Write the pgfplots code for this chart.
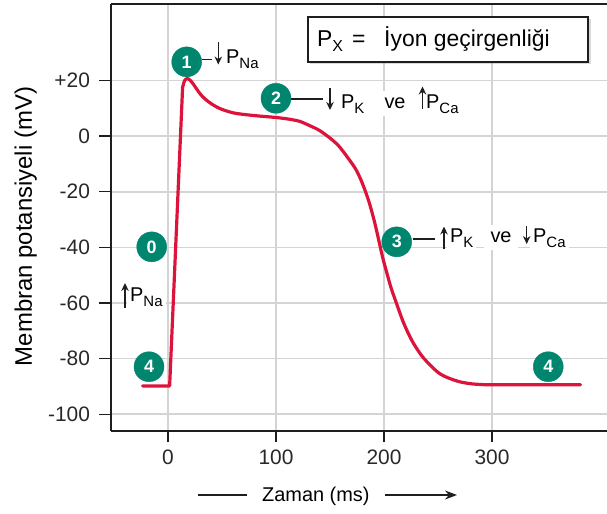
\documentclass[border=0pt]{standalone}
\usepackage{pgfplots}
\pgfplotsset{compat=1.18}
\usepackage{fontspec}
\setmainfont{Liberation Sans}
\usetikzlibrary{arrows.meta,shadows}

\definecolor{apred}{RGB}{220,20,60}
\definecolor{apteal}{RGB}{0,133,111}
\definecolor{gridgray}{RGB}{212,212,212}
\definecolor{txt}{RGB}{40,40,40}
\definecolor{axgray}{RGB}{30,30,30}

\newcommand{\fs}[1]{\fontsize{#1}{#1}\selectfont}
\newcommand{\sub}[1]{\raisebox{-5bp}{\fs{15}#1}}

\pgfplotstableread{
x y
-23.5 -89.8
1.5 -89.8
13.5 17.5
}\apup

\pgfplotstableread{
x y
13.5 17.5
15.4 20.0
17.8 20.7
20.5 20.1
24 18.4
28 16.1
32 14.2
38 12.2
44 10.7
50 9.6
60 8.4
70 7.8
85 7.2
100 6.7
112 6.1
122 5.3
131 3.8
140 2.1
150 -0.7
158 -3.5
166 -7.5
174 -12.0
180 -17.0
186 -23.5
191 -30.5
195.5 -38.0
199 -44.0
202.5 -49.0
206.5 -54.5
211 -59.5
218 -67.0
226 -73.6
235 -79.0
244.5 -83.0
252 -85.5
260 -87.0
270 -88.3
280 -89.0
290 -89.3
300 -89.4
340 -89.4
382 -89.4
}\apdata

\pgfplotstableread{
x y lab
17.3 26.7 1
100 13.6 2
-15.1 -39.8 0
-17.6 -82.9 4
211.8 -38.0 3
352.1 -82.9 4
}\circles

\begin{document}
\begin{tikzpicture}
\useasboundingbox (-111bp,-83.3bp) rectangle (496bp,430.7bp);
\begin{axis}[
  at={(0,0)}, anchor=south west,
  scale only axis, width=496bp, height=426.7bp,
  xmin=-52.8, xmax=406.5, ymin=-105.9, ymax=47.5,
  axis x line*=box, axis y line*=left,
  axis line style={-, draw=axgray, line width=1.6bp},
  xtick={0,100,200,300}, xticklabels={0,100,200,300},
  ytick={-100,-80,-60,-40,-20,0,20}, yticklabels={-100,-80,-60,-40,-20,0,+20},
  xtick pos=left, ytick pos=left,
  tick align=outside, major tick length=11.5bp,
  tick style={draw=axgray, line width=1.3bp},
  grid=major, major grid style={draw=gridgray, line width=1.6bp},
  tick label style={font=\fs{21}, text=txt},
  yticklabel style={xshift=-6bp},
  xticklabel style={yshift=-4bp},
  clip=false,
]
\addplot[apred, line width=3.2bp, line join=round, line cap=round] table[x=x,y=y] {\apup};
\addplot[apred, line width=3.2bp, line join=round, line cap=round, smooth, tension=0.5] table[x=x,y=y] {\apdata};
\addplot[only marks, mark=*, mark size=15bp, mark options={draw=apteal, fill=apteal},
  nodes near coords, point meta=explicit symbolic,
  nodes near coords style={anchor=center, text=white, font=\bfseries\fs{18}}]
  table[x=x,y=y,meta=lab] {\circles};
\end{axis}
\begin{scope}[x=1bp,y=-1bp,shift={(-111bp,430.7bp)}]
  \tikzset{ar/.style={line width=1.4bp, draw=axgray, -{Stealth[length=8bp,width=7.5bp]}},
           ln/.style={line width=1.1bp, draw=axgray},
           lb/.style={anchor=base west, inner sep=0pt, font=\fs{20}, text=black},
           wb/.style={lb, fill=white, inner xsep=3bp, inner ysep=7bp}}
  % 1
  \draw[ln] (202,59.5) -- (212.5,59.5);
  \draw[ar] (218.3,42) -- (218.3,64.5);
  \node[lb] at (226,63.5) {P\sub{Na}};
  % 2
  \node[wb] at (338,108.5) {P\sub{K}};
  \node[wb] at (378,108.5) {\,ve\,};
  \node[wb] at (423,108.5) {P\sub{Ca}};
  \draw[ln] (291.5,99) -- (323,99);
  \draw[ar] (330,88) -- (330,110);
  \draw[ar] (422.5,109) -- (422.5,86.5);
  % 3
  \node[wb] at (447,242.7) {P\sub{K}};
  \node[wb] at (484,242.7) {\,ve\,};
  \node[wb] at (530,242.7) {P\sub{Ca}};
  \draw[ln] (413,239) -- (435,239);
  \draw[ar] (444,249) -- (444,226.5);
  \draw[ar] (526.7,226.5) -- (526.7,244);
  % 0 left
  \node[wb] at (127,301.5) {P\sub{Na}};
  \draw[ar] (125,308) -- (125,283);
  % legend box
  \node[draw=axgray, line width=1.3bp, fill=white, minimum width=280bp, minimum height=45bp,
        drop shadow={opacity=0.3, shadow xshift=2.5bp, shadow yshift=-2.5bp}] at (448,39.5) {};
  \node[lb, font=\fs{23}] at (317,46.7) {P\raisebox{-5bp}{\fs{16}X}};
  \node[lb, font=\fs{23}] at (352,46.7) {=};
  \node[lb, font=\fs{23}] at (384,46.7) {İyon geçirgenliği};
  % x label
  \draw[line width=1.3bp, draw=axgray] (198,495) -- (247,495);
  \node[lb] at (262,501.7) {Zaman (ms)};
  \draw[line width=1.3bp, draw=axgray, -{Stealth[length=12bp,width=9bp]}] (385,495) -- (457,495);
  % y label
  \node[anchor=base, inner sep=0pt, rotate=90, font=\fs{24}, text=black] at (32,226.5) {Membran potansiyeli (mV)};
\end{scope}
\end{tikzpicture}
\end{document}
